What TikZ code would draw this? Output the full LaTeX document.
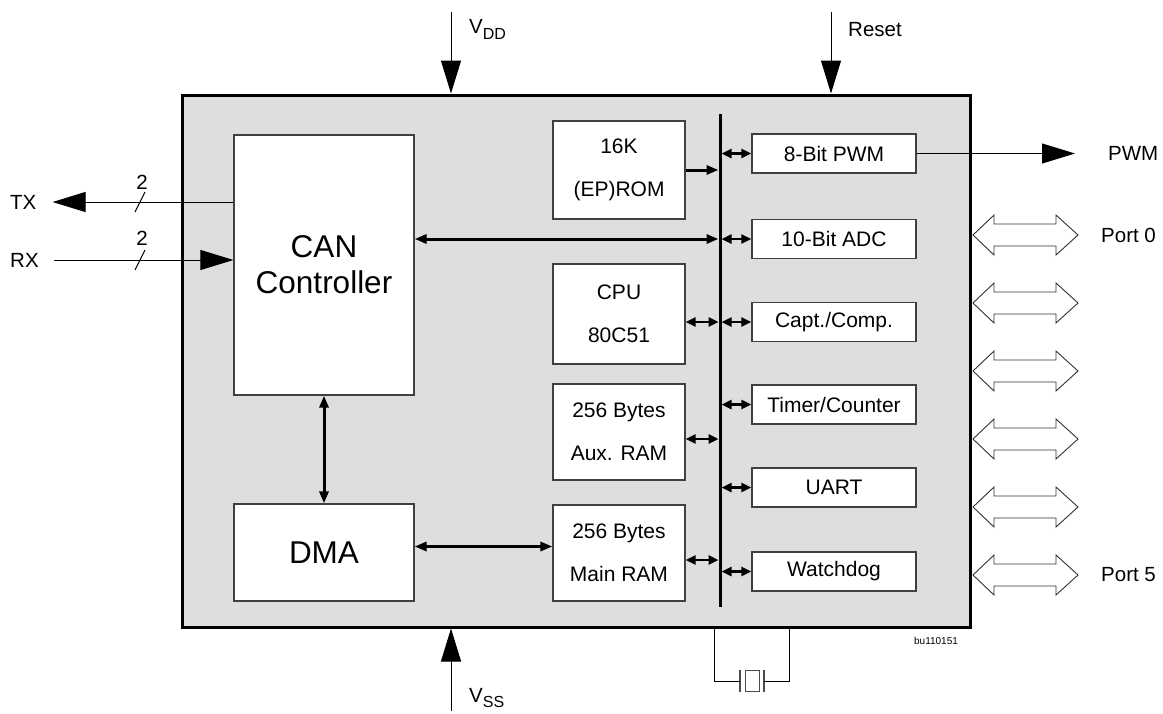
\documentclass[tikz,border=0pt]{standalone}
\usepackage{fontspec}
\setmainfont{Liberation Sans}
\usetikzlibrary{arrows.meta}
\newcommand{\boxfont}{\fontsize{21}{25}\selectfont}
\newcommand{\bigfont}{\fontsize{31.5}{36}\selectfont}
\newcommand{\pinfont}{\fontsize{20.5}{24}\selectfont}
\newcommand{\subfont}{\fontsize{16}{16}\selectfont}
\begin{document}
\begin{tikzpicture}[x=1pt, y=-1pt,
    chip/.style={draw, line width=3pt, fill=black!13, inner sep=0pt},
    blk/.style={draw=black!75, line width=1.2pt, fill=white, inner sep=0pt, align=center, font=\boxfont},
    periph/.style={blk, minimum width=164pt, minimum height=39pt},
    mem/.style={blk, minimum width=132pt},
    pin/.style={inner sep=0pt, font=\pinfont},
    bigarr/.style={line width=1pt, -{Triangle[length=33pt,width=20pt]}},
    busarr/.style={line width=2.4pt, {Triangle[length=10pt,width=9pt]}-{Triangle[length=10pt,width=9pt]}},
    wide/.style={line width=3pt, -{Triangle[length=12pt,width=9pt]}},
    widedbl/.style={line width=3pt, {Triangle[length=12pt,width=9pt]}-{Triangle[length=12pt,width=9pt]}},
    port/.style={draw=black!80, line width=0.9pt, fill=white}]

    \useasboundingbox (0,0) rectangle (1163,713);

    % Chip outline
    \node[chip, minimum width=788pt, minimum height=532pt] (chip) at (576,361) {};

    % Controller and DMA
    \node[blk, font=\bigfont, minimum width=180pt, minimum height=260pt] (can) at (324,265) {CAN\\Controller};
    \node[blk, font=\bigfont, minimum width=180pt, minimum height=97pt] (dma) at (324,552.5) {DMA};

    % Memories and CPU
    \node[mem, minimum height=98pt] (rom) at (619,170) {16K\\[18pt](EP)ROM};
    \node[mem, minimum height=100pt] (cpu) at (619,314) {CPU\\[18pt]80C51};
    \node[mem, minimum height=96pt] (aux) at (619,432) {256 Bytes\\[18pt]Aux. RAM};
    \node[mem, minimum height=96pt] (ram) at (619,553) {256 Bytes\\[18pt]Main RAM};

    % Internal bus
    \coordinate (bustop) at (720,114);
    \coordinate (busbot) at (720,607);
    \draw[line width=3pt] (bustop) -- (busbot);

    % Peripherals
    \foreach \name/\y/\txt in {pwm/153.5/8-Bit PWM, adc/239/10-Bit ADC, capt/322/{Capt./Comp.},
                              timer/404.5/{Timer/Counter}, uart/487.5/UART, wdog/571.5/Watchdog} {
        \node[periph] (\name) at (834,\y) {\txt};
        \draw[busarr, shorten <=1.5pt] (\name.west -| bustop) -- (\name.west);
    }

    % Connections to the bus
    \draw[wide, shorten >=1.5pt] (rom.east) -- (rom.east -| bustop);
    \draw[widedbl, shorten >=1.5pt] (can.east |- adc) -- (bustop |- adc);
    \draw[busarr, shorten >=1.5pt] (cpu.east |- capt) -- (bustop |- capt);
    \coordinate (auxport) at ([yshift=-7pt]aux.east);
    \draw[busarr, shorten >=1.5pt] (auxport) -- (auxport -| bustop);
    \coordinate (ramport) at ([yshift=-7pt]ram.east);
    \draw[busarr, shorten >=1.5pt] (ramport) -- (ramport -| bustop);
    \draw[widedbl] (can.south) -- (dma.north);
    \coordinate (dmaport) at ([yshift=6pt]dma.east);
    \draw[widedbl] (dmaport) -- (dmaport -| ram.west);

    % Supply and reset
    \coordinate (vdd) at (451,12);
    \coordinate (vss) at (451,711);
    \coordinate (reset) at (831,12);
    \draw[bigarr] (vdd) -- (vdd |- chip.north);
    \draw[bigarr] (reset) -- (reset |- chip.north);
    \draw[bigarr] (vss) -- (vss |- chip.south);
    \node[pin, anchor=base west] (vddlbl) at (469,33) {V\raisebox{-6pt}{\subfont DD}};
    \node[pin, anchor=base west] (rstlbl) at (848,36) {Reset};
    \node[pin, anchor=base west] (vsslbl) at (469,702) {V\raisebox{-5pt}{\subfont SS}};

    % CAN lines
    \node[pin, anchor=west] (tx) at (10,202) {TX};
    \node[pin, anchor=west] (rx) at (10,260) {RX};
    \draw[bigarr, shorten >=16pt] (can.west |- tx) -- (tx.east);
    \draw[bigarr, shorten <=15.5pt] (rx.east) -- (rx -| can.west);
    \coordinate (txw) at (140,202);
    \coordinate (rxw) at (140,260);
    \draw[line width=1pt] ([shift={(-5,10)}]txw) -- ([shift={(5,-10)}]txw);
    \draw[line width=1pt] ([shift={(-5,10)}]rxw) -- ([shift={(5,-10)}]rxw);
    \node[pin] (txn) at (142,182) {2};
    \node[pin] (rxn) at (142,238) {2};

    % PWM output
    \node[pin, anchor=west] (pwmout) at (1108,153.5) {PWM};
    \draw[bigarr, shorten >=33pt] (pwm.east) -- (pwmout.west);

    % Ports
    \foreach \y [count=\i from 0] in {235,303,371,439,507,575} {
        \coordinate (port\i) at (973,\y);
        \draw[port] (port\i) -- ++(21,-20) -- ++(0,9) -- ++(62,0) -- ++(0,-9) -- ++(22,20)
            -- ++(-22,20) -- ++(0,-9) -- ++(-62,0) -- ++(0,9) -- cycle;
    }
    \node[pin, anchor=west] (p0) at (1101,235) {Port 0};
    \node[pin, anchor=west] (p5) at (1101,575) {Port 5};

    % Crystal
    \node[draw=black!70, line width=1pt, fill=white, minimum width=14pt, minimum height=21pt, inner sep=0pt] (xtal) at (752,681) {};
    \coordinate (xl) at (740,681);
    \coordinate (xr) at (764,681);
    \coordinate (xin) at (714,627);
    \coordinate (xout) at (789,627);
    \draw[line width=1.6pt, black!70] ([yshift=-11pt]xl) -- ([yshift=11pt]xl);
    \draw[line width=1.6pt, black!70] ([yshift=-11pt]xr) -- ([yshift=11pt]xr);
    \draw[line width=1pt] (xin) |- (xl);
    \draw[line width=1pt] (xout) |- (xr);

    \node[inner sep=0pt, font=\fontsize{10}{12}\selectfont] (code) at (936,641) {bu110151};
\end{tikzpicture}
\end{document}
